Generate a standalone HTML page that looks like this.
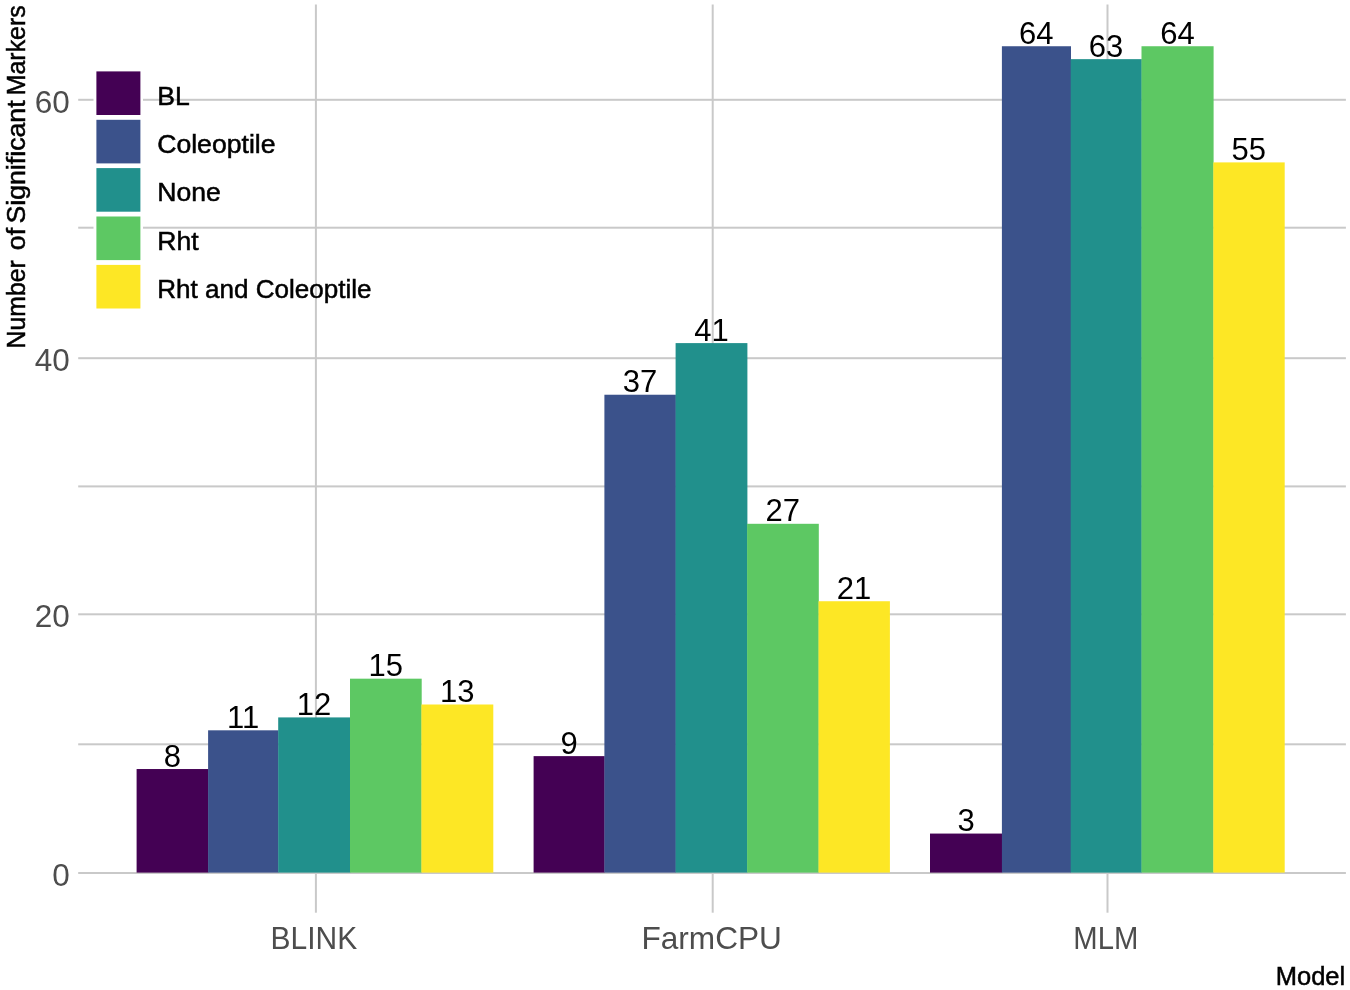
<!DOCTYPE html>
<html lang="en"><head><meta charset="utf-8"><title>Number of Significant Markers by Model</title>
<style>html,body{margin:0;padding:0;background:#fff}body{width:1350px;height:990px;overflow:hidden}svg{display:block}text{font-family:"Liberation Sans",Arial,Helvetica,sans-serif}</style></head><body>
<svg width="1350" height="990" viewBox="0 0 1350 990">
<rect width="1350" height="990" fill="#fff"/>
<g fill="#C9C9C9">
<rect x="78.2" y="98.80" width="1267.7" height="2"/>
<rect x="78.2" y="226.70" width="1267.7" height="2"/>
<rect x="78.2" y="357.20" width="1267.7" height="2"/>
<rect x="78.2" y="485.40" width="1267.7" height="2"/>
<rect x="78.2" y="613.30" width="1267.7" height="2"/>
<rect x="78.2" y="743.30" width="1267.7" height="2"/>
<rect x="78.2" y="872.00" width="1267.7" height="2"/>
<rect x="314.90" y="4.5" width="2" height="908.2"/>
<rect x="711.70" y="4.5" width="2" height="908.2"/>
<rect x="1106.50" y="4.5" width="2" height="908.2"/>
</g>
<rect x="136.6" y="769.03" width="71.80" height="103.57" fill="#440154"/>
<rect x="208.1" y="730.31" width="70.40" height="142.29" fill="#3B528B"/>
<rect x="278.2" y="717.41" width="72.10" height="155.19" fill="#21908C"/>
<rect x="350.0" y="678.68" width="71.70" height="193.92" fill="#5DC863"/>
<rect x="421.4" y="704.50" width="71.90" height="168.10" fill="#FDE725"/>
<rect x="533.6" y="756.13" width="71.10" height="116.47" fill="#440154"/>
<rect x="604.4" y="394.73" width="71.50" height="477.87" fill="#3B528B"/>
<rect x="675.6" y="343.10" width="71.80" height="529.50" fill="#21908C"/>
<rect x="747.1" y="523.80" width="71.70" height="348.80" fill="#5DC863"/>
<rect x="818.5" y="601.24" width="71.40" height="271.36" fill="#FDE725"/>
<rect x="930.0" y="833.57" width="72.20" height="39.03" fill="#440154"/>
<rect x="1001.9" y="46.24" width="69.10" height="826.36" fill="#3B528B"/>
<rect x="1070.7" y="59.15" width="71.10" height="813.45" fill="#21908C"/>
<rect x="1141.5" y="46.24" width="72.10" height="826.36" fill="#5DC863"/>
<rect x="1213.3" y="162.40" width="71.40" height="710.20" fill="#FDE725"/>
<g font-size="31" fill="#000" text-anchor="middle">
<text x="172.3" y="766.5">8</text>
<text x="243.1" y="727.8">11</text>
<text x="314.1" y="714.9">12</text>
<text x="385.7" y="676.1">15</text>
<text x="457.2" y="702.0">13</text>
<text x="569.0" y="753.6">9</text>
<text x="640.0" y="392.1">37</text>
<text x="711.4" y="340.5">41</text>
<text x="782.8" y="521.2">27</text>
<text x="854.0" y="598.7">21</text>
<text x="966.0" y="831.1">3</text>
<text x="1036.3" y="43.6">64</text>
<text x="1106.1" y="56.5">63</text>
<text x="1177.4" y="43.6">64</text>
<text x="1248.8" y="159.8">55</text>
</g>
<g font-size="31.5" fill="#4D4D4D" text-anchor="end">
<text x="69.8" y="112.6">60</text>
<text x="69.8" y="371.0">40</text>
<text x="69.8" y="627.1">20</text>
<text x="69.8" y="885.8">0</text>
</g>
<g font-size="31.5" fill="#4D4D4D" text-anchor="middle">
<text transform="translate(313.9,948.8) scale(0.953,1)">BLINK</text>
<text transform="translate(711.7,948.8) scale(1.004,1)">FarmCPU</text>
<text transform="translate(1105.9,948.8) scale(0.93,1)">MLM</text>
</g>
<text x="1345.2" y="985" font-size="25.5" fill="#000" stroke="#000" stroke-width="0.5" text-anchor="end">Model</text>
<g font-size="25.5" fill="#000" stroke="#000" stroke-width="0.5">
<text transform="translate(25.2,348.4) rotate(-90) scale(0.972,1)">Number</text>
<text transform="translate(25.2,250.2) rotate(-90) scale(1.05,1)">of</text>
<text transform="translate(25.2,223.6) rotate(-90) scale(1.048,1)">Significant</text>
<text transform="translate(25.2,95.2) rotate(-90) scale(0.976,1)">Markers</text>
</g>
<rect x="93.5" y="69.2" width="49.5" height="241.8" fill="#fff"/>
<rect x="96.4" y="71.4" width="44" height="43.6" fill="#440154"/>
<text transform="translate(157.2,104.6) scale(1.05,1)" font-size="25.3" fill="#000" stroke="#000" stroke-width="0.5">BL</text>
<rect x="96.4" y="119.8" width="44" height="43.6" fill="#3B528B"/>
<text transform="translate(157.2,153.0) scale(1.052,1)" font-size="25.3" fill="#000" stroke="#000" stroke-width="0.5">Coleoptile</text>
<rect x="96.4" y="168.1" width="44" height="43.6" fill="#21908C"/>
<text transform="translate(157.2,201.3) scale(1.05,1)" font-size="25.3" fill="#000" stroke="#000" stroke-width="0.5">None</text>
<rect x="96.4" y="216.5" width="44" height="43.6" fill="#5DC863"/>
<text transform="translate(157.2,249.7) scale(1.05,1)" font-size="25.3" fill="#000" stroke="#000" stroke-width="0.5">Rht</text>
<rect x="96.4" y="264.9" width="44" height="43.6" fill="#FDE725"/>
<text transform="translate(157.2,298.1) scale(1.03,1)" font-size="25.3" fill="#000" stroke="#000" stroke-width="0.5">Rht and Coleoptile</text>
</svg></body></html>
